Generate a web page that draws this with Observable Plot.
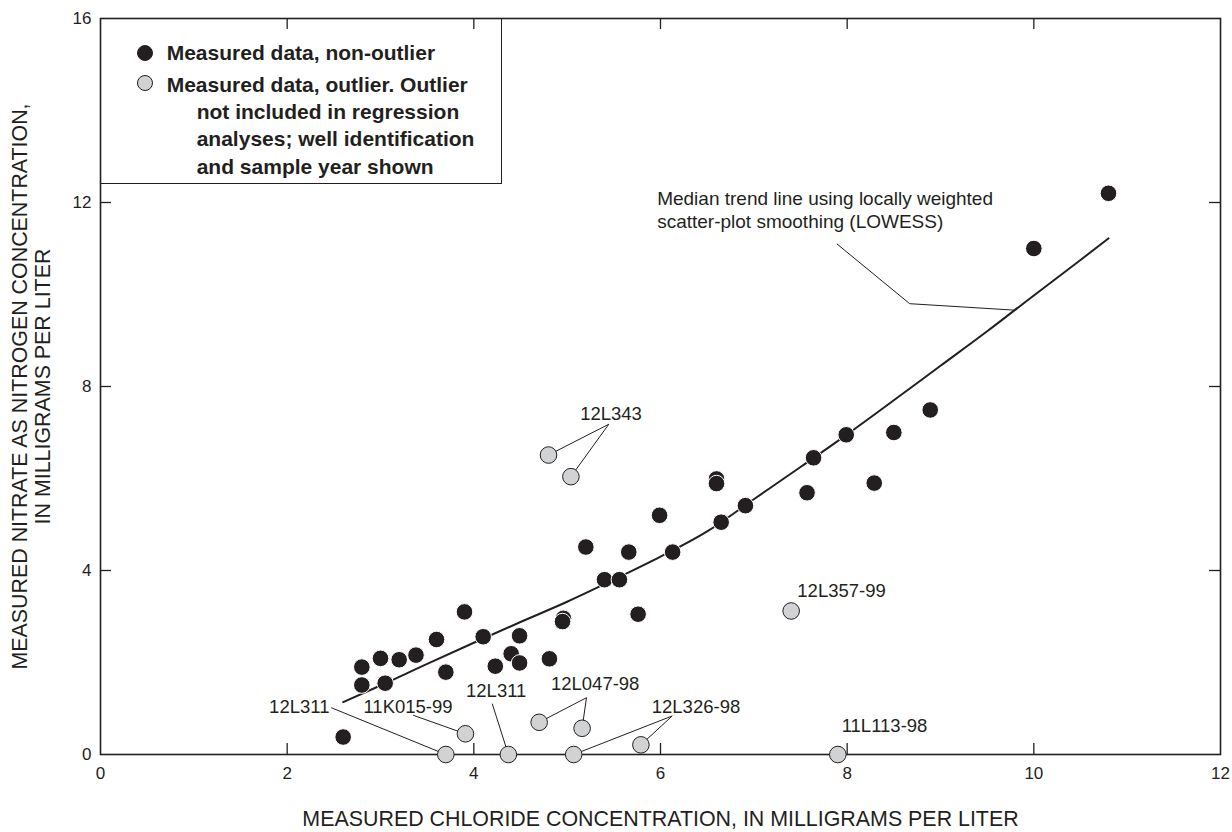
<!DOCTYPE html>
<html><head><meta charset="utf-8">
<script src="https://cdn.jsdelivr.net/npm/d3@7"></script>
<script src="https://cdn.jsdelivr.net/npm/@observablehq/plot@0.6"></script>
<style>
body{margin:0;background:#fff;}
#wrap{position:relative;width:1232px;height:832px;font-family:"Liberation Sans",Arial,sans-serif;color:#231f20;}
#wrap svg{position:absolute;left:0;top:0;}
.legend{position:absolute;left:100px;top:18px;width:402px;height:166px;border:1.5px solid #231f20;box-sizing:border-box;}
.lt{position:absolute;font-weight:bold;font-size:21px;line-height:24px;white-space:nowrap;}
.sw{position:absolute;width:16.6px;height:16.6px;border-radius:50%;box-sizing:border-box;}
</style></head>
<body><div id="wrap"></div>
<script>
// ---- data ----
const nonX = [2.60,2.80,2.80,3.00,3.05,3.20,3.38,3.60,3.70,3.90,4.10,4.23,4.40,4.49,4.49,4.81,4.96,4.95,5.20,5.40,5.56,5.66,5.76,5.99,6.13,6.60,6.60,6.65,6.91,7.57,7.64,7.99,8.29,8.50,8.89,10.00,10.80];
const nonY = [0.38,1.90,1.51,2.09,1.55,2.06,2.16,2.50,1.79,3.10,2.56,1.92,2.19,2.58,1.99,2.08,2.96,2.89,4.51,3.80,3.80,4.40,3.05,5.20,4.40,5.99,5.89,5.05,5.41,5.69,6.45,6.95,5.90,7.00,7.49,11.00,12.20];
const outX = [4.80,5.04,3.91,3.70,4.37,4.70,5.16,5.07,5.79,7.90,7.40];
const outY = [6.51,6.04,0.45,0.00,0.00,0.70,0.57,0.00,0.21,0.00,3.12];
const lowX = [2.6,3.0,3.5,4.0,4.5,5.0,5.5,6.0,6.5,7.0,7.5,8.0,8.5,9.0,9.5,10.0,10.5,10.8];
const lowY = [1.14,1.50,1.97,2.43,2.88,3.32,3.80,4.30,4.85,5.55,6.25,6.96,7.70,8.45,9.20,9.98,10.75,11.22];
const xTicks = [0,2,4,6,8,10,12];
const yTicks = [0,4,8,12,16];
const xInner = [2,4,6,8,10];
const yInner = [4,8,12];
// annotations (well labels)
const annText = ["12L343","12L357-99","11L113-98","12L326-98","12L047-98","12L311","11K015-99","12L311"];
const annX = [5.47,7.94,8.40,6.38,5.30,4.24,3.295,2.13];
const annY = [7.41,3.56,0.62,1.04,1.53,1.37,1.03,1.03];
// leader lines
const leadX1 = [5.446,5.446,6.125,6.125,5.207,5.207,4.197,3.350,2.472,7.89,8.67];
const leadY1 = [7.18,7.18,0.837,0.837,1.235,1.235,1.105,0.853,1.018,11.10,9.80];
const leadX2 = [4.80,5.04,5.79,5.07,4.70,5.16,4.37,3.91,3.70,8.67,9.79];
const leadY2 = [6.51,6.04,0.21,0.00,0.70,0.57,0.00,0.45,0.00,9.80,9.66];
const noteText = ["Median trend line using locally weighted\nscatter-plot smoothing (LOWESS)"];
const noteX = [5.964];
const noteY = [11.86];
const xTitle = "MEASURED CHLORIDE CONCENTRATION, IN MILLIGRAMS PER LITER";
const yTitle = "MEASURED NITRATE AS NITROGEN CONCENTRATION,\nIN MILLIGRAMS PER LITER";
const legendLabels = ["Measured data, non-outlier","Measured data, outlier. Outlier","not included in regression","analyses; well identification","and sample year shown"];

// ---- build ----
const ink = "#231f20";
const non = nonX.map((x,i)=>({x, y:nonY[i]}));
const out = outX.map((x,i)=>({x, y:outY[i]}));
const low = lowX.map((x,i)=>({x, y:lowY[i]}));
const ann = annText.map((t,i)=>({t, x:annX[i], y:annY[i]}));
const leads = leadX1.map((x1,i)=>({x1, y1:leadY1[i], x2:leadX2[i], y2:leadY2[i]}));
const notes = noteText.map((t,i)=>({t, x:noteX[i], y:noteY[i]}));

const W = 1232, H = 832, mT = 18, mB = 78, mL = 100, mR = 12;
const innerH = H - mT - mB, innerW = W - mL - mR, tl = 11;

const chart = Plot.plot({
  width: W, height: H, marginTop: mT, marginBottom: mB, marginLeft: mL, marginRight: mR,
  style: {fontFamily: '"Liberation Sans", Arial, sans-serif', fontSize: "17px", color: ink, background: "transparent"},
  x: {domain: [0, 12]},
  y: {domain: [0, 16]},
  marks: [
    Plot.frame({stroke: ink, strokeWidth: 1.6}),
    Plot.tickX(xInner, {x: d => d, insetTop: innerH - tl, stroke: ink, strokeWidth: 1.3}),
    Plot.tickX(xInner, {x: d => d, insetBottom: innerH - tl, stroke: ink, strokeWidth: 1.3}),
    Plot.tickY(yInner, {y: d => d, insetRight: innerW - tl, stroke: ink, strokeWidth: 1.3}),
    Plot.tickY(yInner, {y: d => d, insetLeft: innerW - tl, stroke: ink, strokeWidth: 1.3}),
    Plot.axisX({ticks: xTicks, tickSize: 0, tickPadding: 12, label: null, fontSize: 17, tickFormat: d => String(d)}),
    Plot.axisY({ticks: yTicks, tickSize: 0, tickPadding: 9, label: null, fontSize: 17, tickFormat: d => String(d)}),
    Plot.line(low, {x: "x", y: "y", stroke: ink, strokeWidth: 2, curve: "monotone-x"}),
    Plot.link(leads, {x1: "x1", y1: "y1", x2: "x2", y2: "y2", stroke: ink, strokeWidth: 1}),
    Plot.dot(non, {x: "x", y: "y", r: 8.3, fill: ink, stroke: "white", strokeWidth: 1}),
    Plot.dot(out, {x: "x", y: "y", r: 8.3, fill: "#d1d2d4", stroke: ink, strokeWidth: 1}),
    Plot.text(ann, {x: "x", y: "y", text: "t", fontSize: 18.5, fill: ink}),
    Plot.text(notes, {x: "x", y: "y", text: "t", textAnchor: "start", fontSize: 19, lineHeight: 1.23, fill: ink}),
    Plot.text([xTitle], {text: d => d, frameAnchor: "bottom", textAnchor: "middle", lineAnchor: "middle", dy: 65, fontSize: 21.4, fill: ink}),
    Plot.text([yTitle], {text: d => d, frameAnchor: "left", textAnchor: "middle", lineAnchor: "middle", dx: -69, rotate: -90, fontSize: 21.4, lineHeight: 1.05, fill: ink})
  ]
});
const wrap = document.getElementById("wrap");
wrap.appendChild(chart);

// legend (HTML overlay inside the plot frame)
const lg = document.createElement("div");
lg.className = "legend";
wrap.appendChild(lg);
function sw(cx, cy, fill, stroke){
  const s = document.createElement("div");
  s.className = "sw";
  s.style.left = (cx - 8.3) + "px"; s.style.top = (cy - 8.3) + "px";
  s.style.background = fill; s.style.border = "1px solid " + stroke;
  wrap.appendChild(s);
}
sw(145, 53, ink, ink);
sw(145, 83, "#d1d2d4", ink);
const lineLeft = [166.7,166.7,196.7,196.7,196.7];
const lineCy = [53,85,112,139.3,166.6];
legendLabels.forEach((t,i)=>{
  const d = document.createElement("div");
  d.className = "lt";
  d.textContent = t;
  d.style.left = lineLeft[i] + "px";
  d.style.top = (lineCy[i] - 12) + "px";
  wrap.appendChild(d);
});
</script>
</body></html>
